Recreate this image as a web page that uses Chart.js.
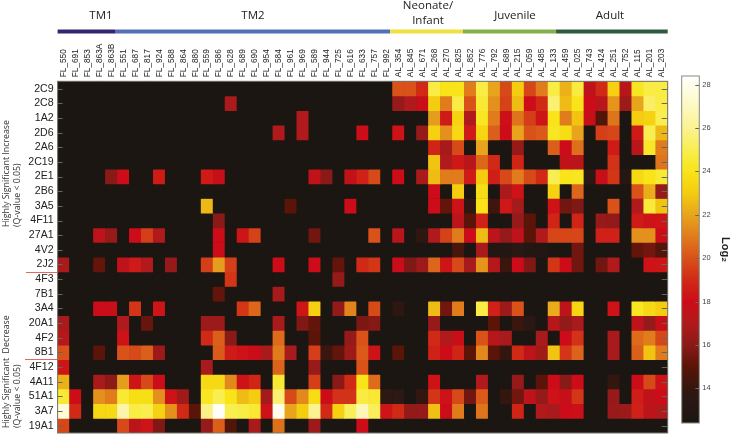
<!DOCTYPE html>
<html>
<head>
<meta charset="utf-8">
<title>CYP heatmap</title>
<script src="https://cdn.jsdelivr.net/npm/chart.js@4"></script>
<style>
  body { margin: 0; background: #fff; }
  canvas { position: absolute; }
</style>
</head>
<body>
<canvas id="heatmap" width="732" height="435" style="left:0;top:0"></canvas>
<canvas id="colorbar" width="57" height="360" style="left:675px;top:70px"></canvas>
<script>
const samples = ["FL_550","FL_691","FL_853","FL_863A","FL_863B","FL_551","FL_687","FL_817","FL_924","FL_588",
  "FL_864","FL_880","FL_559","FL_586","FL_628","FL_689","FL_690","FL_954","FL_584","FL_961",
  "FL_969","FL_589","FL_944","FL_725","FL_616","FL_633","FL_757","FL_992","AL_354","AL_845",
  "AL_671","AL_268","AL_270","AL_825","AL_852","AL_776","AL_792","AL_689","AL_215","AL_059",
  "AL_485","AL_133","AL_459","AL_025","AL_743","AL_424","AL_251","AL_752","AL_115","AL_201","AL_203"];
const genes = ["2C9","2C8","1A2","2D6","2A6","2C19","2E1","2B6","3A5","4F11","27A1","4V2",
  "2J2","4F3","7B1","3A4","20A1","4F2","8B1","4F12","4A11","51A1","3A7","19A1"];

// o = below detection, bottom of the colour scale
const o = 12.5;
// log2 values, one row per gene, columns in the order of samples
const log2Values = [
  [o,o,o,o,o,o,o,o,o,o, o,o,o,o,o,o,o,o,o,o, o,o,o,o,o,o,o,o,20,20, 19,24.8,24,24,21,24.8,22,19.8,23,19.7, 21,24.8,22.3,24.7,17.5,19,23.2,17.3,24.2,24.8,24.8],
  [o,o,o,o,o,o,o,o,o,o, o,o,o,o,16.8,o,o,o,o,o, o,o,o,o,o,o,o,o,16.3,17, 17.8,23,21,24.8,20,24.5,21.5,19.6,22.6,18, 19,25.5,22.6,24,18,17.3,21.6,16.5,22,25.3,24.8],
  [o,o,o,o,o,o,o,o,o,o, o,o,o,o,o,o,o,o,o,o, 17,o,o,o,o,o,o,o,o,o, o,21.8,18.5,23.3,17,24.2,21,18.1,20.8,19.5, 18.3,24,21,22.8,17.8,14.8,20.8,o,23,23.3,25],
  [o,o,o,o,o,o,o,o,o,o, o,o,o,o,o,o,o,o,17,o, 17,o,o,o,o,18,o,o,18.2,o, 16.3,23.2,21.5,23.5,18.5,23.4,20.3,18,22,20, 20.2,24.2,23.7,22,o,19.5,19.7,o,18.5,25,22.5],
  [o,o,o,o,o,o,o,o,o,o, o,o,o,o,o,o,o,o,o,o, o,o,o,o,o,o,o,o,o,o, o,18.8,16.7,19.8,o,22,o,o,16.3,o, o,20.3,18,20.7,o,o,18.5,o,17.3,24.3,21],
  [o,o,o,o,o,o,o,o,o,o, o,o,o,o,o,o,o,o,o,o, o,o,o,o,o,o,o,o,o,o, o,22.8,17,18.4,17.3,20.5,19,o,18.8,o, o,o,17.6,17.3,o,o,19.2,o,o,o,20.8],
  [o,o,o,o,16,18,o,o,18.5,o, o,o,18.5,17.8,o,o,o,o,o,o, o,17.6,16,o,17.6,18.7,19.8,o,18,o, 16.8,22.6,21,21,18.5,23,18.6,19.8,21,19.8, 19,25,24,24.2,13.5,17.8,19.3,13.2,23.5,24,24.5],
  [o,o,o,o,o,o,o,o,o,o, o,o,o,o,o,o,o,o,o,o, o,o,o,o,o,o,o,o,o,o, o,18,o,23,o,23.7,o,16.8,18.2,o, o,23.3,o,20.5,o,o,o,o,20,22.2,16.3],
  [o,o,o,o,o,o,o,o,o,o, o,o,22.5,o,o,o,o,o,o,15, o,o,o,o,18,o,o,o,o,o, o,18,15.2,18.2,13.8,24,14.3,18.4,16.7,o, o,18.2,15.5,15.8,o,o,20,o,17,24.6,22.8],
  [o,o,o,o,o,o,o,o,o,o, o,o,o,16,o,o,o,o,o,o, o,o,o,o,o,o,o,o,o,o, o,o,o,17.3,15,18.7,o,o,16.3,15, o,18.8,o,18.8,o,16.3,16.2,o,18.5,18.2,18.3],
  [o,o,o,17.5,16.3,o,18,19.5,17,o, o,o,o,18,o,18.3,19.6,o,o,o, o,15.5,o,o,o,o,20,o,17.3,o, 13.8,17,19.6,21,18,22.6,17.4,16.3,17.5,15, 17,19.7,19.7,19.7,o,18.7,18.7,o,21.5,21.5,18],
  [o,o,o,o,o,o,o,o,o,o, o,o,o,18,o,o,o,o,o,o, o,o,o,o,o,o,o,o,o,o, o,o,o,14.5,o,16.8,13,13,13.5,13, 13,o,o,15.5,o,o,o,o,15.2,15.5,14.8],
  [16.8,o,o,15.2,o,17.5,18.5,17,o,16.3, o,o,19.5,21.8,19.5,o,o,o,18,o, o,18,o,15.2,o,19,19.3,o,18,15.8, 16.5,20.5,18.3,19.8,16.8,21.6,17.2,14.2,18,15.8, o,19.3,18,15.5,o,15.5,17,o,o,18.2,18.3],
  [o,o,o,o,o,o,o,o,o,o, o,o,o,o,19.3,o,o,o,o,o, o,o,o,16.3,o,o,o,o,o,o, o,o,o,o,o,o,o,o,o,o, o,o,o,o,o,o,o,o,o,o,o],
  [o,o,o,o,o,o,o,o,o,o, o,o,o,15.2,o,o,o,o,16.7,o, o,o,o,o,o,o,o,o,o,o, o,o,o,o,o,o,o,o,o,o, o,o,o,o,o,o,o,o,o,o,o],
  [o,o,o,18,17.8,o,19.3,o,18.3,o, o,o,o,o,o,19.3,20.5,o,o,o, 18.3,23.2,o,16.2,21.2,o,19.8,o,13.8,o, o,22.6,15.5,21,o,24.8,18.7,16.5,20,o, o,22.2,17.4,23.4,o,o,18.2,o,24.2,23.5,23],
  [16.8,o,o,o,o,17,o,15.3,o,o, o,o,16.5,16.5,o,o,o,o,16.8,o, 15.8,15.2,o,o,o,15.7,15.9,o,o,o, o,16.3,o,o,o,o,15,o,14.2,13.5, o,17.2,16.2,16.8,o,o,o,o,17.5,16.3,17.8],
  [17.2,o,o,o,o,18.2,o,o,o,o, o,o,19,20.3,16,o,o,o,20.6,o, o,15,o,o,16.3,20,o,o,o,o, o,19,17,17.8,o,20,17.2,16.8,o,o, 16.8,o,18,19.2,o,o,16.8,o,20.6,21,19.7],
  [20,o,o,15,o,20,19.8,20.3,16.5,o, o,o,o,20.2,18.5,18.2,18,16.8,21,16.8, o,19.5,14.2,15.2,16.5,20.2,18.2,o,15,o, o,18.7,18,18.8,15,21.3,15,14,19,17.5, 16.6,22.8,19.3,20.4,o,o,16.8,o,20.3,22.8,21],
  [18.3,o,o,o,o,o,o,o,o,o, o,o,16.8,o,o,o,o,o,20.4,o, o,16.4,o,o,o,20,o,o,o,o, o,o,o,o,o,o,o,o,o,o, o,o,o,o,o,o,o,o,o,o,o],
  [22.3,o,o,16.8,16.1,21.8,18.3,19.8,18,o, o,o,23.5,23.5,21.3,18.2,18.8,o,24.5,o, o,19.5,o,16,19,24,20.6,o,o,o, o,18.2,o,o,o,17,o,o,16.3,o, 15,18,16,18,o,o,14,o,18,19.8,18.2],
  [24.5,18,o,21.5,21,24.5,23.8,23.8,21.5,18.2, 16.6,o,24.2,25,24,22.6,23,16.7,25.5,19.8, 21.3,23.7,18,19.2,19.2,24.7,24.5,13.7,13.6,o, 14,19.3,18.2,19.8,15.5,20.2,o,14,15.5,17.5, 16.3,18.2,17.8,19.3,o,o,16.3,o,18.6,17.6,18],
  [27.5,19,o,23.5,23.5,26.5,24.8,25,23.3,21.5, 19,15,25.8,28.2,25,24.8,24.5,18.2,28,22, 23,26,19,23.2,25.2,26.8,25.2,18.3,19,16.2, 16.3,22.7,18,21,o,20.8,o,o,18.8,o, 17,16.8,18,18.1,o,o,16.4,16.5,18.7,17.4,17],
  [19.7,o,o,o,o,19.8,17.3,18.3,15.8,o, o,o,16.3,20.3,14.8,o,16.8,o,20.7,o, o,16.5,o,o,o,18,o,o,o,o, o,o,o,o,o,o,o,o,o,o, o,o,o,o,o,o,o,o,o,o,o]
];

// Group bands above the heatmap, edges in columns
const groupEdges = [0, 4.8, 27.8, 33.87, 41.67, 51];
const groupColors = ["#35246f", "#5470b5", "#f0e040", "#84b04c", "#2f5a3f"];

// Colour scale of the legend
const colorStops = [12.4, 13.5, 14, 15, 16, 17, 18, 19, 20, 21, 22, 23, 24, 25, 26, 27, 28.4];
const colorHex = ["#1a1611", "#2a1815", "#33170f", "#5a1408", "#8a1a18", "#b01a1c", "#cc0c18", "#d02a16", "#d8521a",
  "#e07c1c", "#e8a41c", "#f4cc10", "#f8e418", "#f9ee50", "#fbf291", "#fdf8c0", "#ffffff"];
const colorbarTicks = [14, 16, 18, 20, 22, 24, 26, 28];

function hexToRgb(h) {
  return [1, 3, 5].map(i => parseInt(h.slice(i, i + 2), 16));
}

function heatColor(v) {
  let i = 0;
  while (i < colorStops.length - 2 && v > colorStops[i + 1]) i++;
  const t = Math.min(1, Math.max(0, (v - colorStops[i]) / (colorStops[i + 1] - colorStops[i])));
  const a = hexToRgb(colorHex[i]), b = hexToRgb(colorHex[i + 1]);
  const c = a.map((x, k) => Math.round(x + (b[k] - x) * t));
  return `rgb(${c[0]},${c[1]},${c[2]})`;
}

// Text and lines around the heatmap
const annotations = {
  id: "annotations",
  beforeDatasetsDraw(chart) {
    const a = chart.chartArea, ctx = chart.ctx;
    ctx.fillStyle = "#1a1611";
    ctx.fillRect(a.left, a.top, a.right - a.left, a.bottom - a.top);
  },
  afterDatasetsDraw(chart) {
    const a = chart.chartArea, ctx = chart.ctx, y = chart.scales.y;
    const cell = (a.right - a.left) / samples.length;
    ctx.save();

    // inner ticks and frame
    ctx.strokeStyle = "#66665a";
    ctx.lineWidth = 1;
    ctx.beginPath();
    genes.forEach((g, i) => {
      const py = Math.round(y.getPixelForValue(i + 0.5)) + 0.5;
      ctx.moveTo(a.left, py); ctx.lineTo(a.left + 5, py);
      ctx.moveTo(a.right - 6, py); ctx.lineTo(a.right, py);
    });
    ctx.stroke();
    ctx.strokeStyle = "#77776c";
    ctx.strokeRect(a.left, a.top, a.right - a.left, a.bottom - a.top);

    // group bands
    groupColors.forEach((c, i) => {
      ctx.fillStyle = c;
      ctx.fillRect(a.left + groupEdges[i] * cell, 29.5, (groupEdges[i + 1] - groupEdges[i]) * cell, 4);
    });

    // group names
    ctx.fillStyle = "#222";
    ctx.font = '11.5px "Open Sans"';
    ctx.textAlign = "center";
    ctx.textBaseline = "middle";
    ctx.fillText("TM1", 101, 16);
    ctx.fillText("TM2", 253, 16);
    ctx.fillText("Neonate/", 428, 5.5);
    ctx.fillText("Infant", 428, 21);
    ctx.fillText("Juvenile", 515, 16);
    ctx.fillText("Adult", 610, 16);

    // red dividers
    ctx.strokeStyle = "#e06a60";
    ctx.beginPath();
    ctx.moveTo(26, 272.5); ctx.lineTo(a.left, 272.5);
    ctx.moveTo(25, 359.5); ctx.lineTo(a.left, 359.5);
    ctx.stroke();

    // rotated side notes
    const side = (text, px, py) => {
      ctx.save();
      ctx.translate(px, py);
      ctx.rotate(-Math.PI / 2);
      ctx.textAlign = "left";
      ctx.textBaseline = "alphabetic";
      ctx.font = '8.8px "Open Sans"';
      ctx.fillStyle = "#333";
      ctx.fillText(text, 0, 0);
      ctx.restore();
    };
    side("Highly Significant Increase", 8.5, 227);
    side("(Q-value < 0.05)", 20, 227);
    side("Highly Significant  Decrease", 8.5, 428);
    side("(Q-value < 0.05)", 20, 428);
    ctx.restore();
  }
};

new Chart(document.getElementById("heatmap"), {
  type: "bar",
  data: {
    labels: samples,
    datasets: genes.map((g, i) => ({
      label: g,
      data: samples.map(() => 1),
      backgroundColor: log2Values[i].map(heatColor),
      borderWidth: 0,
      barPercentage: 1,
      categoryPercentage: 1
    }))
  },
  options: {
    responsive: false,
    animation: false,
    layout: { padding: { left: 0, top: 0, right: 64.3, bottom: 2 } },
    plugins: { legend: { display: false }, tooltip: { enabled: false } },
    scales: {
      x: {
        position: "top",
        stacked: true,
        grid: { display: false, drawTicks: false },
        border: { display: false },
        afterFit: s => { s.height = 81.3; s.paddingLeft = 0; s.paddingRight = 0; },
        ticks: {
          autoSkip: false,
          minRotation: 90,
          maxRotation: 90,
          padding: 4,
          labelOffset: 10,
          color: "#222",
          font: { family: "Liberation Sans", size: 8.3 }
        }
      },
      y: {
        stacked: true,
        reverse: true,
        min: 0,
        max: genes.length,
        grid: { display: false, drawTicks: false },
        border: { display: false },
        afterFit: s => { s.width = 57.6; s.paddingTop = 0; s.paddingBottom = 0; },
        afterBuildTicks: s => { s.ticks = genes.map((g, i) => ({ value: i + 0.5 })); },
        ticks: {
          autoSkip: false,
          padding: 4,
          color: "#222",
          font: { family: "Liberation Sans", size: 10.6 },
          callback: (v, i) => genes[i]
        }
      }
    }
  },
  plugins: [annotations]
});

// Colour legend
const barFrame = {
  id: "barFrame",
  afterDatasetsDraw(chart) {
    const a = chart.chartArea, ctx = chart.ctx, y = chart.scales.y;
    ctx.save();
    ctx.strokeStyle = "#66665a";
    ctx.lineWidth = 1;
    ctx.beginPath();
    colorbarTicks.forEach(t => {
      const py = Math.round(y.getPixelForValue(t)) + 0.5;
      ctx.moveTo(a.right - 4, py); ctx.lineTo(a.right, py);
    });
    ctx.stroke();
    ctx.strokeStyle = "#8a8a80";
    ctx.strokeRect(a.left, a.top, a.right - a.left, a.bottom - a.top);
    ctx.restore();
  }
};

const legendChart = new Chart(document.getElementById("colorbar"), {
  type: "bar",
  data: {
    labels: ["Log2"],
    datasets: [{
      data: [[colorStops[0], colorStops[colorStops.length - 1]]],
      borderWidth: 0,
      barPercentage: 1,
      categoryPercentage: 1,
      backgroundColor: ctx => {
        const area = ctx.chart.chartArea, y = ctx.chart.scales.y;
        if (!area || !y) return "#888";
        const g = ctx.chart.ctx.createLinearGradient(0, area.bottom, 0, area.top);
        colorStops.forEach((s, i) => g.addColorStop((s - y.min) / (y.max - y.min), colorHex[i]));
        return g;
      }
    }]
  },
  options: {
    responsive: false,
    animation: false,
    layout: { padding: { left: 6.7, top: 6, right: 0, bottom: 7 } },
    plugins: { legend: { display: false }, tooltip: { enabled: false } },
    scales: {
      x: { display: false, afterFit: s => { s.paddingLeft = 0; s.paddingRight = 0; } },
      y: {
        position: "right",
        min: colorStops[0],
        max: colorStops[colorStops.length - 1],
        grid: { display: false, drawTicks: false },
        border: { display: false },
        afterFit: s => { s.width = 32.7; s.paddingTop = 0; s.paddingBottom = 0; },
        afterBuildTicks: s => { s.ticks = colorbarTicks.map(t => ({ value: t })); },
        ticks: {
          autoSkip: false,
          padding: 3,
          color: "#444",
          font: { family: "Liberation Sans", size: 7.5 }
        },
        title: {
          display: true,
          text: "Log₂",
          color: "#222",
          padding: 0,
          font: { family: "Liberation Sans", size: 11, weight: "bold" }
        }
      }
    }
  },
  plugins: [barFrame]
});
legendChart.update();
</script>
</body>
</html>
